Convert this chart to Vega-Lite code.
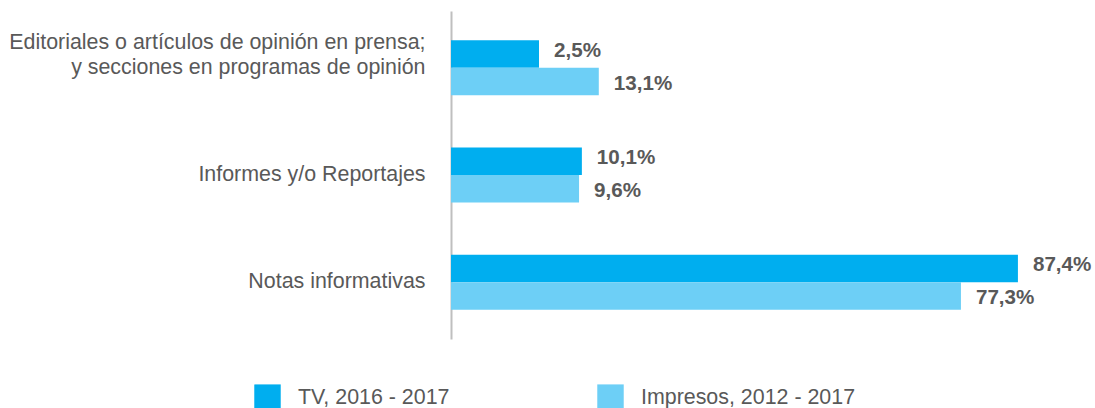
{
  "$schema": "https://vega.github.io/schema/vega-lite/v6.json",
  "autosize": {"type": "none"},
  "padding": {"left": 451, "top": 11, "right": 6, "bottom": 69},
  "width": 638,
  "height": 328,
  "background": "white",
  "data": {
    "values": [
      {"tipo": "Editoriales o artículos de opinión en prensa; y secciones en programas de opinión", "serie": "TV, 2016 - 2017", "valor": 0.025},
      {"tipo": "Editoriales o artículos de opinión en prensa; y secciones en programas de opinión", "serie": "Impresos, 2012 - 2017", "valor": 0.131},
      {"tipo": "Informes y/o Reportajes", "serie": "TV, 2016 - 2017", "valor": 0.101},
      {"tipo": "Informes y/o Reportajes", "serie": "Impresos, 2012 - 2017", "valor": 0.096},
      {"tipo": "Notas informativas", "serie": "TV, 2016 - 2017", "valor": 0.874},
      {"tipo": "Notas informativas", "serie": "Impresos, 2012 - 2017", "valor": 0.773}
    ]
  },
  "encoding": {
    "y": {
      "field": "tipo",
      "type": "nominal",
      "sort": ["Editoriales o artículos de opinión en prensa; y secciones en programas de opinión", "Informes y/o Reportajes", "Notas informativas"],
      "scale": {"paddingInner": 0.487, "paddingOuter": 0.273},
      "axis": {
        "title": null,
        "ticks": false,
        "labelPadding": 26,
        "labelFont": "Liberation Sans",
        "labelFontSize": 21.4,
        "labelColor": "#595959",
        "labelLineHeight": 24.5,
        "labelLimit": 600,
        "labelOffset": {"condition": {"test": "indexof(datum.label, '; ') > 0", "value": -24.5}, "value": 0},
        "domainColor": "#BFBFBF",
        "domainWidth": 2,
        "labelExpr": "indexof(datum.label, '; ') > 0 ? [substring(datum.label, 0, indexof(datum.label, '; ') + 1), substring(datum.label, indexof(datum.label, '; ') + 2)] : datum.label"
      }
    },
    "yOffset": {
      "field": "serie",
      "type": "nominal",
      "sort": ["TV, 2016 - 2017", "Impresos, 2012 - 2017"]
    },
    "x": {
      "field": "valor",
      "type": "quantitative",
      "scale": {"domain": [-0.131, 1.0], "zero": false, "nice": false},
      "axis": null
    }
  },
  "layer": [
    {
      "mark": {"type": "bar"},
      "encoding": {
        "x2": {"datum": -0.131},
        "color": {
          "field": "serie",
          "type": "nominal",
          "sort": ["TV, 2016 - 2017", "Impresos, 2012 - 2017"],
          "scale": {"domain": ["TV, 2016 - 2017", "Impresos, 2012 - 2017"], "range": ["#00AEEF", "#6DCFF6"]},
          "legend": {
            "title": null,
            "orient": "none",
            "legendX": -197,
            "legendY": 373,
            "direction": "horizontal",
            "padding": 0,
            "symbolType": "square",
            "symbolSize": 700,
            "symbolStrokeWidth": 0,
            "symbolOpacity": 1,
            "labelFont": "Liberation Sans",
            "labelFontSize": 21.4,
            "labelColor": "#595959",
            "labelOffset": 17,
            "labelLimit": 400,
            "columnPadding": 147
          }
        }
      }
    },
    {
      "transform": [{"filter": "datum.serie == 'TV, 2016 - 2017'"}],
      "mark": {"type": "text", "align": "left", "baseline": "middle", "dx": 15, "dy": -3, "font": "Liberation Sans", "fontSize": 20.6, "fontWeight": "bold", "color": "#595959"},
      "encoding": {
        "text": {"field": "valor", "type": "quantitative", "format": ".1%"}
      }
    },
    {
      "transform": [{"filter": "datum.serie == 'Impresos, 2012 - 2017'"}],
      "mark": {"type": "text", "align": "left", "baseline": "middle", "dx": 15, "dy": 2.5, "font": "Liberation Sans", "fontSize": 20.6, "fontWeight": "bold", "color": "#595959"},
      "encoding": {
        "text": {"field": "valor", "type": "quantitative", "format": ".1%"}
      }
    }
  ],
  "config": {
    "view": {"stroke": null},
    "locale": {"number": {"decimal": ",", "thousands": ".", "grouping": [3], "currency": ["", " €"]}}
  }
}
